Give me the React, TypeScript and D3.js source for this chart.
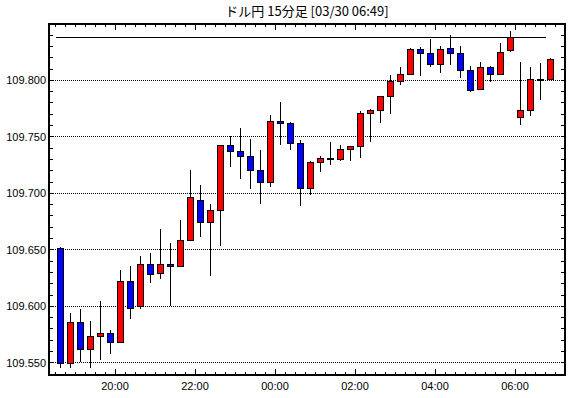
import * as d3 from 'd3';

const title = 'ドル円 15分足 [03/30 06:49]';
const startTime = Date.UTC(2020, 2, 29, 18, 30);
const refLine = 109.838;

const opens = [
  109.651, 109.549, 109.586, 109.562, 109.573, 109.576, 109.568, 109.622, 109.6, 109.637,
  109.629, 109.637, 109.635, 109.658, 109.694, 109.674, 109.685, 109.742, 109.737, 109.733,
  109.72, 109.71, 109.764, 109.762, 109.744, 109.704, 109.727, 109.731, 109.73, 109.739,
  109.741, 109.771, 109.773, 109.786, 109.799, 109.805, 109.827, 109.824, 109.814, 109.828,
  109.824, 109.809, 109.792, 109.811, 109.805, 109.826, 109.767, 109.773, 109.801, 109.801,
];
const highs = [
  109.652, 109.594, 109.597, 109.587, 109.604, 109.579, 109.632, 109.635, 109.644, 109.647,
  109.668, 109.656, 109.676, 109.72, 109.707, 109.69, 109.742, 109.75, 109.757, 109.748,
  109.738, 109.769, 109.78, 109.763, 109.747, 109.728, 109.733, 109.745, 109.742, 109.741,
  109.772, 109.774, 109.786, 109.804, 109.811, 109.828, 109.829, 109.836, 109.83, 109.84,
  109.83, 109.812, 109.816, 109.812, 109.833, 109.843, 109.816, 109.811, 109.815, 109.819,
];
const lows = [
  109.545, 109.545, 109.55, 109.545, 109.552, 109.557, 109.568, 109.588, 109.597, 109.62,
  109.624, 109.6, 109.634, 109.658, 109.661, 109.626, 109.653, 109.723, 109.712, 109.703,
  109.69, 109.705, 109.742, 109.738, 109.688, 109.698, 109.718, 109.725, 109.728, 109.728,
  109.731, 109.745, 109.762, 109.77, 109.795, 109.805, 109.803, 109.811, 109.806, 109.813,
  109.802, 109.789, 109.791, 109.798, 109.804, 109.825, 109.76, 109.768, 109.782, 109.801,
];
const closes = [
  109.549, 109.586, 109.562, 109.573, 109.576, 109.568, 109.622, 109.598, 109.637, 109.628,
  109.637, 109.635, 109.658, 109.696, 109.674, 109.685, 109.742, 109.737, 109.733, 109.72,
  109.71, 109.764, 109.762, 109.744, 109.704, 109.727, 109.731, 109.73, 109.739, 109.741,
  109.771, 109.773, 109.786, 109.799, 109.805, 109.827, 109.824, 109.814, 109.827, 109.824,
  109.809, 109.791, 109.811, 109.805, 109.825, 109.838, 109.773, 109.801, 109.8, 109.818,
];
const yLabels = [109.55, 109.6, 109.65, 109.7, 109.75, 109.8];

const W = 570;
const H = 398;
const left = 49;
const right = 565;
const top = 24;
const bottom = 375;

const times = opens.map((_, i) => new Date(d3.utcMinute.offset(new Date(startTime), i * 15)));
const lastTime = times[times.length - 1];

const x = d3
  .scaleUtc()
  .domain([d3.utcMinute.offset(new Date(startTime), -9), d3.utcMinute.offset(lastTime, 30)])
  .range([left, right]);
const y = d3.scaleLinear().domain([109.5388, 109.8494]).range([bottom, top]);

const px = (v: number) => Math.round(v) + 0.5;
const fmt = d3.format('.3f');
const timeFmt = d3.utcFormat('%H:%M');

export default function App() {
  const slot = x(times[1]) - x(times[0]);
  const xTicks = d3.utcMinute.every(15)!.range(x.domain()[0], x.domain()[1]);
  const isMajor = (d: Date) => d.getUTCMinutes() === 0 && d.getUTCHours() % 2 === 0;
  const [lo, hi] = y.domain();
  const yTicks = d3.range(Math.ceil(lo * 100), Math.floor(hi * 100) + 1).map(v => v / 100);

  return (
    <svg
      width={W}
      height={H}
      style={{ position: 'absolute', left: 0, top: 0, background: '#fff' }}
      shapeRendering="crispEdges"
    >
      <rect width={W} height={H} fill="#fff" />
      <text
        x={(left + right) / 2}
        y={16}
        textAnchor="middle"
        fontSize={13}
        fontFamily="'Noto Sans CJK JP', sans-serif"
      >
        {title}
      </text>

      {yLabels.map(v => (
        <g key={v}>
          <line
            x1={left}
            x2={right}
            y1={px(y(v))}
            y2={px(y(v))}
            stroke="#000"
            strokeDasharray="1,1"
          />
          <text
            x={46}
            y={y(v) + 4.5}
            textAnchor="end"
            fontSize={11}
            fontFamily="'Liberation Sans', Arial, sans-serif"
          >
            {fmt(v)}
          </text>
        </g>
      ))}

      {yTicks.map(v => (
        <g key={'yt' + v} stroke="#000">
          <line x1={left} x2={left + 4} y1={px(y(v))} y2={px(y(v))} />
          <line x1={right - 4} x2={right} y1={px(y(v))} y2={px(y(v))} />
        </g>
      ))}

      {xTicks.map(d => {
        const len = isMajor(d) ? 6 : 3;
        const xx = px(x(d));
        return (
          <g key={'xt' + d.getTime()} stroke="#000">
            <line x1={xx} x2={xx} y1={bottom} y2={bottom - len} />
            <line x1={xx} x2={xx} y1={top} y2={top + len} />
          </g>
        );
      })}

      {xTicks.filter(isMajor).map(d => (
        <text
          key={'xl' + d.getTime()}
          x={x(d)}
          y={389.5}
          textAnchor="middle"
          fontSize={11}
          fontFamily="'Liberation Sans', Arial, sans-serif"
        >
          {timeFmt(d)}
        </text>
      ))}

      <line
        x1={px(x(times[0]))}
        x2={px(x(lastTime))}
        y1={px(y(refLine))}
        y2={px(y(refLine))}
        stroke="#000"
      />

      {times.map((t, i) => {
        const cx = Math.round(x(t) + slot / 2);
        const o = opens[i];
        const c = closes[i];
        const yTop = Math.round(y(Math.max(o, c)));
        const yBot = Math.max(Math.round(y(Math.min(o, c))), yTop + 1);
        return (
          <g key={i}>
            <line
              x1={cx + 0.5}
              x2={cx + 0.5}
              y1={Math.round(y(highs[i]))}
              y2={Math.round(y(lows[i]))}
              stroke="#000"
            />
            <rect
              x={cx - 3 + 0.5}
              y={yTop + 0.5}
              width={6}
              height={yBot - yTop}
              fill={c >= o ? '#ff0000' : '#0000ff'}
              stroke="#000"
            />
          </g>
        );
      })}

      <rect
        x={left}
        y={top}
        width={right - left}
        height={bottom - top}
        fill="none"
        stroke="#000"
        strokeWidth={2}
      />
    </svg>
  );
}
